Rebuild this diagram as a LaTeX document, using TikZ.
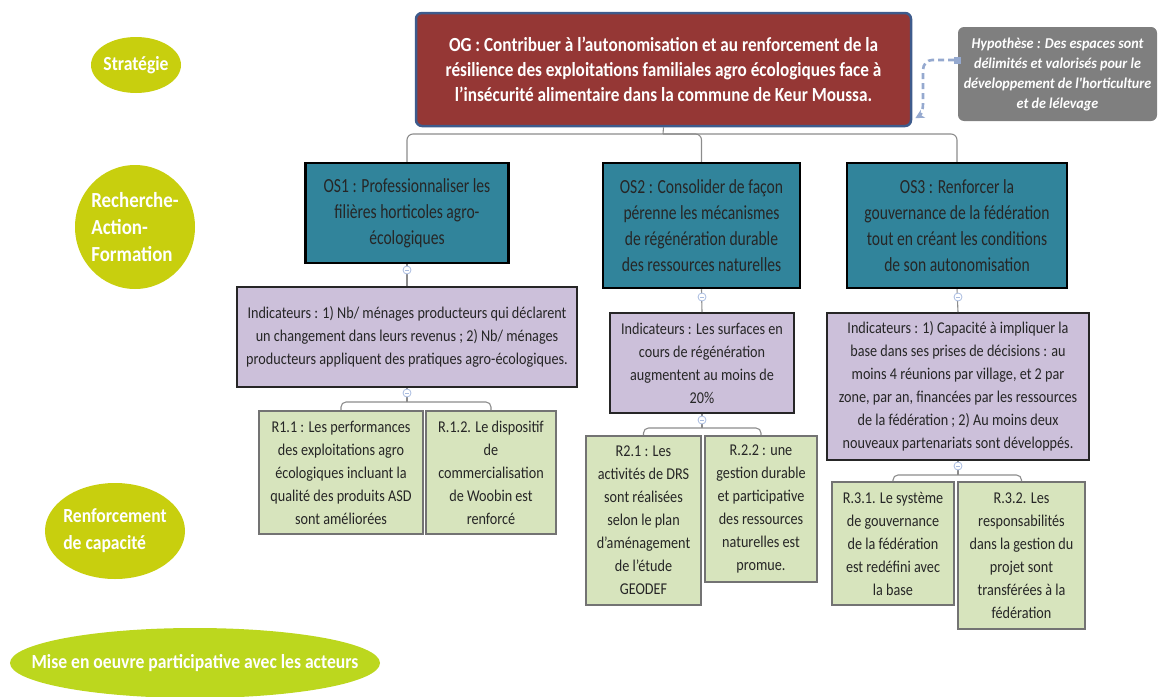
\documentclass[tikz,border=0pt]{standalone}
\usepackage{fontspec}
\setmainfont{Carlito}
\newfontfamily\cfog[FakeStretch=0.86]{Carlito}
\newfontfamily\cfos[FakeStretch=0.78]{Carlito}
\newfontfamily\cfind[FakeStretch=0.86]{Carlito}
\newfontfamily\cfhyp[FakeStretch=0.94]{Carlito}
\newfontfamily\cflime[FakeStretch=0.88]{Carlito}
\usetikzlibrary{arrows.meta,shapes.geometric}
\definecolor{ogred}{HTML}{953735}
\definecolor{ogborder}{HTML}{3E5B8C}
\definecolor{hypgray}{HTML}{7F7F7F}
\definecolor{osteal}{HTML}{31849B}
\definecolor{indpurple}{HTML}{CCC0DA}
\definecolor{resgreen}{HTML}{D7E4BD}
\definecolor{limeA}{HTML}{C8CF0E}
\definecolor{limeB}{HTML}{BCD71E}
\definecolor{dashblue}{HTML}{95A9CF}
\definecolor{linegray}{HTML}{8C8C8C}
\definecolor{handlecol}{HTML}{A9BCE0}
\definecolor{txtdark}{HTML}{262626}
\tikzset{
  ogbox/.style={draw=ogborder, line width=2.5pt, fill=ogred, rounded corners=6pt, align=center,
    text=white, font=\cfog\bfseries\fontsize{20}{25}\selectfont, inner sep=0pt},
  hypbox/.style={fill=hypgray, rounded corners=6pt, align=center, text=white,
    font=\cfhyp\bfseries\itshape\fontsize{15}{20}\selectfont, inner sep=0pt},
  osbox/.style={draw=black, line width=2.5pt, fill=osteal, align=center, text=txtdark,
    font=\cfos\fontsize{20}{26}\selectfont, inner sep=0pt},
  indbox/.style={draw=black!85, line width=1.8pt, fill=indpurple, align=center, text=txtdark,
    font=\cfind\fontsize{16.5}{23}\selectfont, inner sep=0pt},
  resbox/.style={draw=black!55, line width=1.6pt, fill=resgreen, align=center, text=txtdark,
    font=\cfind\fontsize{16.5}{23}\selectfont, inner sep=0pt},
  lime/.style={ellipse, fill=limeA, inner sep=0pt},
  limetext/.style={text=white, font=\cflime\bfseries\fontsize{20}{27}\selectfont, inner sep=0pt, align=left},
  conn/.style={draw=linegray, line width=1.1pt},
  hdl/.style={circle, draw=handlecol, fill=white, line width=0.8pt, minimum size=8pt, inner sep=0pt,
    path picture={\draw[handlecol, line width=0.7pt] ([xshift=2pt]path picture bounding box.west) -- ([xshift=-2pt]path picture bounding box.east);}},
  dashconn/.style={draw=dashblue, line width=2.6pt, dash pattern=on 6pt off 4pt},
}
\begin{document}
\begin{tikzpicture}[x=1pt, y=-1pt]
\useasboundingbox (0,0) rectangle (1159,696);
% left ellipses
\node[lime, minimum width=90pt, minimum height=56pt,
  label={[limetext]center:Stratégie}] (strat) at (136,65) {};
\node[lime, minimum width=120pt, minimum height=124pt,
  label={[limetext, font=\cflime\bfseries\fontsize{21.5}{27}\selectfont]center:Recherche-\\Action-\\Formation}] (raf) at (135,227) {};
\node[lime, minimum width=140pt, minimum height=96pt,
  label={[limetext]center:Renforcement\\ de capacité}] (rc) at (115,531) {};
\node[lime, fill=limeB, minimum width=370pt, minimum height=70pt,
  label={[limetext]center:Mise en oeuvre participative avec les acteurs}] (mo) at (195,663) {};
% top
\node[ogbox, minimum width=495pt, minimum height=113pt] (og) at (663.5,69.5) {OG : Contribuer à l’autonomisation et au renforcement de la\\résilience des exploitations familiales agro écologiques face à\\ l’insécurité alimentaire dans la commune de Keur Moussa.};
\node[hypbox, minimum width=199pt, minimum height=94pt] (hyp) at (1057.5,74) {Hypothèse : Des espaces sont\\délimités et valorisés pour le\\développement de l'horticulture\\et de lélevage};
% OS
\node[osbox, minimum width=203pt, minimum height=100pt] (os1) at (407,213) {OS1 : Professionnaliser les\\filières horticoles agro-\\écologiques};
\node[osbox, minimum width=197pt, minimum height=125pt] (os2) at (701.5,225.5) {OS2 : Consolider de façon\\pérenne les mécanismes\\de régénération durable\\des ressources naturelles};
\node[osbox, minimum width=220pt, minimum height=125pt] (os3) at (957,225.5) {OS3 : Renforcer la\\gouvernance de la fédération\\tout en créant les conditions\\de son autonomisation};
% indicators
\node[indbox, minimum width=340pt, minimum height=100pt] (ind1) at (407,337) {Indicateurs : 1) Nb/ ménages producteurs qui déclarent\\un changement dans leurs revenus ; 2) Nb/ ménages\\producteurs appliquent des pratiques agro-écologiques.};
\node[indbox, minimum width=184pt, minimum height=100pt] (ind2) at (702,363) {Indicateurs : Les surfaces en\\cours de régénération\\augmentent au moins de\\20\%};
\node[indbox, minimum width=262pt, minimum height=147pt] (ind3) at (958,386.5) {Indicateurs : 1) Capacité à impliquer la\\base dans ses prises de décisions : au\\moins 4 réunions par village, et 2 par\\zone, par an, financées par les ressources\\de la fédération ; 2) Au moins deux\\nouveaux partenariats sont développés.};
% results
\node[resbox, minimum width=164pt, minimum height=123pt] (r11) at (341,472.5) {R1.1 : Les performances\\des exploitations agro\\écologiques incluant la\\qualité des produits ASD\\sont améliorées};
\node[resbox, minimum width=130pt, minimum height=123pt] (r12) at (491,472.5) {R.1.2. Le dispositif\\de\\commercialisation\\de Woobin est\\renforcé};
\node[resbox, minimum width=115pt, minimum height=169pt] (r21) at (643.5,520.5) {R2.1 : Les\\activités de DRS\\sont réalisées\\selon le plan\\d’aménagement\\de l’étude\\GEODEF};
\node[resbox, minimum width=112pt, minimum height=146pt] (r22) at (761,509) {R.2.2 : une\\gestion durable\\et participative\\des ressources\\naturelles est\\promue.};
\node[resbox, minimum width=122pt, minimum height=123pt] (r31) at (893,543.5) {R.3.1. Le système\\de gouvernance\\de la fédération\\est redéfini avec\\la base};
\node[resbox, minimum width=127pt, minimum height=147pt] (r32) at (1021.5,555.5) {R.3.2. Les\\responsabilités\\dans la gestion du\\projet sont\\transférées à la\\fédération};
% bus coordinates
\coordinate (bus) at (663,134);
\coordinate (b1) at (407,402);
\coordinate (b2) at (702,428);
\coordinate (b3) at (958,475);
% connectors
\draw[conn] (og.south) -- (bus);
\draw[conn, rounded corners=6pt] (os1.north) -- (os1.north |- bus) -- (os3.north |- bus) -- (os3.north);
\draw[conn, rounded corners=6pt] (bus) -| (os2.north);
\draw[conn] (os1.south) -- (ind1.north);
\draw[conn] (os2.south) -- (ind2.north);
\draw[conn] (os3.south) -- (ind3.north);
\draw[conn] (ind1.south) -- (b1);
\draw[conn] (ind2.south) -- (b2);
\draw[conn] (ind3.south) -- (b3);
\draw[conn, rounded corners=5pt] (r11.north) |- (b1) -| (r12.north);
\draw[conn, rounded corners=5pt] (r21.north) |- (b2) -| (r22.north);
\draw[conn, rounded corners=5pt] (r31.north) |- (b3) -| (r32.north);
% handles
\node[hdl] (h1) at (407,270) {};
\node[hdl] (h2) at (702,297) {};
\node[hdl] (h3) at (958,297) {};
\node[hdl] (h4) at (407,393) {};
\node[hdl] (h5) at (702,420) {};
\node[hdl] (h6) at (958,466) {};
% hypothesis link
\node[fill=dashblue, minimum size=7pt, inner sep=0pt] (port) at ([yshift=14pt]hyp.west) {};
\draw[dashconn, -{Stealth[length=9pt,width=9pt]}] (port.west) -- (932,60) to[out=180,in=90] (923,70) -- (923,104) to[out=270,in=30] ([xshift=3pt,yshift=9pt]og.south east);
\end{tikzpicture}
\end{document}
